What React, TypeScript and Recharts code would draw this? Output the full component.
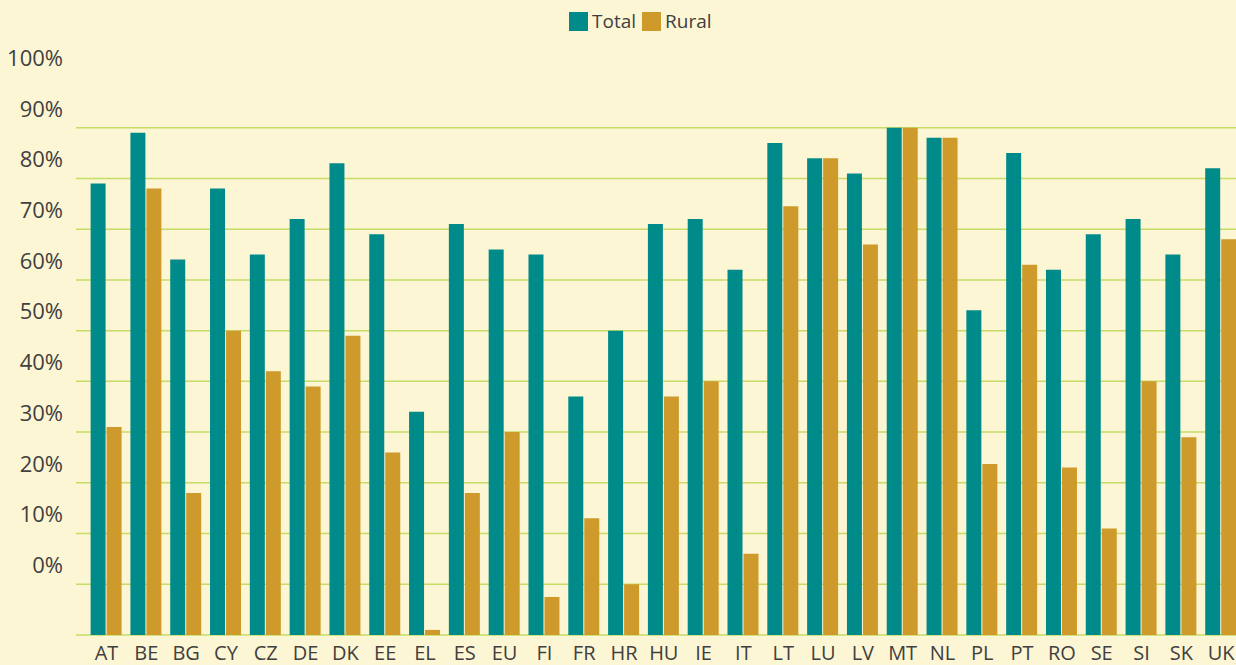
import { Bar, BarChart, CartesianGrid, Legend, XAxis, YAxis } from 'recharts';

// NGA coverage by country, total vs rural households (%).
// Values; zero sits on the bottom line.

const COUNTRIES = [
  'AT', 'BE', 'BG', 'CY', 'CZ', 'DE', 'DK', 'EE', 'EL', 'ES',
  'EU', 'FI', 'FR', 'HR', 'HU', 'IE', 'IT', 'LT', 'LU', 'LV',
  'MT', 'NL', 'PL', 'PT', 'RO', 'SE', 'SI', 'SK', 'UK',
];

const TOTAL = [
  89, 99, 74, 88, 75, 82, 93, 79, 44, 81,
  76, 75, 47, 60, 81, 82, 72, 97, 94, 91,
  100, 98, 64, 95, 72, 79, 82, 75, 92,
];

const RURAL = [
  41, 88, 28, 60, 52, 49, 59, 36, 1, 28,
  40, 7.5, 23, 10, 47, 50, 16, 84.5, 94, 77,
  100, 98, 33.7, 73, 33, 21, 50, 39, 78,
];

// the source prints its axis labels one step below the gridline they sit next to
const Y_TICKS = [0, 10, 20, 30, 40, 50, 60, 70, 80, 90, 100, 110];
const Y_TICK_LABELS = ['', '0%', '10%', '20%', '30%', '40%', '50%', '60%', '70%', '80%', '90%', '100%'];
const GRID_VALUES = [0, 10, 20, 30, 40, 50, 60, 70, 80, 90, 100];
const SERIES_ORDER = ['Total', 'Rural'];

const TEAL = '#008b8a';
const GOLD = '#ce9a2c';
const BG = '#fdf6d4';
const TEXT = '#404040';
const FONT = '"Open Sans", sans-serif';

const data = COUNTRIES.map((c, i) => ({ country: c, total: TOTAL[i], rural: RURAL[i] }));

function YTick({ x, y, payload }: { x: number; y: number; payload: { value: number } }) {
  const label = Y_TICK_LABELS[Y_TICKS.indexOf(payload.value)] ?? '';
  if (!label) return <g />;
  return (
    <text x={x} y={y - 19} dy="0.355em" textAnchor="end" fill={TEXT} fontSize={22} fontFamily={FONT}>
      {label}
    </text>
  );
}

function LegendContent({ payload }: { payload?: { value: string; color: string }[] }) {
  const items = [...(payload ?? [])].sort(
    (a, b) => SERIES_ORDER.indexOf(a.value) - SERIES_ORDER.indexOf(b.value),
  );
  return (
    <div style={{ display: 'flex', alignItems: 'center', fontFamily: FONT, fontSize: 19, color: TEXT }}>
      {items.map((p) => (
        <span key={p.value} style={{ display: 'flex', alignItems: 'center', marginRight: 6 }}>
          <span style={{ width: 19, height: 19, background: p.color, display: 'inline-block', marginRight: 4 }} />
          {p.value}
        </span>
      ))}
    </div>
  );
}

export default function App() {
  return (
    <div
      style={{
        position: 'absolute',
        left: 0,
        top: 0,
        width: 1236,
        height: 665,
        overflow: 'hidden',
        background: BG,
      }}
    >
      <BarChart
        width={1242}
        height={665}
        data={data}
        margin={{ top: 77, right: 1, bottom: 0, left: 0 }}
        barSize={15}
        barGap={1}
      >
        <CartesianGrid
          vertical={false}
          horizontalValues={GRID_VALUES}
          stroke="#c5dc66"
          strokeWidth={1.5}
        />
        <XAxis
          dataKey="country"
          axisLine={false}
          tickLine={false}
          tickSize={0}
          tickMargin={11}
          height={30}
          padding={{ left: 10.6, right: 0 }}
          interval={0}
          tick={{ fill: TEXT, fontSize: 20, fontFamily: FONT }}
        />
        <YAxis
          type="number"
          domain={[0, 110]}
          ticks={Y_TICKS}
          width={76}
          axisLine={false}
          tickLine={false}
          tickSize={0}
          tickMargin={13}
          tick={YTick}
        />
        <Legend
          layout="horizontal"
          verticalAlign="middle"
          align="center"
          wrapperStyle={{ top: 8, left: 569, width: 'auto', height: 'auto' }}
          content={LegendContent as any}
        />
        <Bar dataKey="total" name="Total" fill={TEAL} isAnimationActive={false} />
        <Bar dataKey="rural" name="Rural" fill={GOLD} isAnimationActive={false} />
      </BarChart>
    </div>
  );
}
